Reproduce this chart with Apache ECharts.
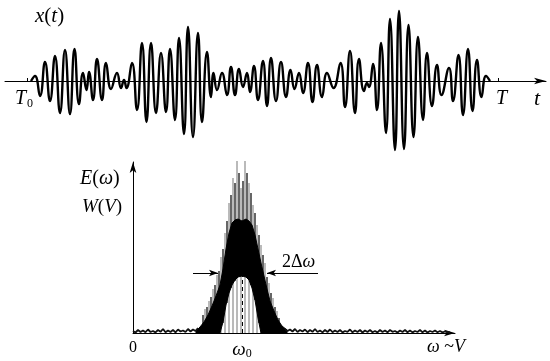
<!DOCTYPE html>
<html>
<head>
<meta charset="utf-8">
<script src="https://cdn.jsdelivr.net/npm/echarts@6/dist/echarts.min.js"></script>
<style>
  html, body { margin: 0; padding: 0; background: #fff; }
  #my_chart { width: 550px; height: 361px; }
</style>
</head>
<body>
<div id="my_chart"></div>
<script>
  // x(t): time of each extremum and its amplitude
  var waveT = [31, 35, 40, 45, 50, 55, 60, 65, 70, 74.5, 79, 83, 86.5, 89, 93, 97, 102, 106, 111, 117,
    121, 124, 126.5, 132, 137, 142, 146.5, 151, 156, 161, 166, 170, 175, 179, 184, 188, 193, 198, 202, 207,
    211, 213.5, 217, 222, 227, 231, 235, 239, 243, 247, 250, 254, 258, 263, 267, 271, 276, 281, 286, 290.5,
    294.5, 299, 303, 308, 312.5, 317, 322, 327, 333.5, 340.5, 345, 350, 355, 359, 364, 367, 369, 373, 377, 381,
    386, 390, 395, 399, 404, 408.5, 413.5, 418, 423, 427, 432, 437, 441.5, 449, 453, 458.5, 463, 468, 472.5, 477,
    481.5, 486, 490];
  var waveX = [0, 5, -15, 19, -20, 25, -32, 31, -33, 32, -23, 8, -9, 9, -19, 22, -19, 18, -8, 8,
    -7, 1, -7, 18, -29, 38, -41, 38, -32, 28, -31, 32, -39, 43, -53, 54, -56, 48, -41, 29,
    -16, 8, -9, 8, -14, 14, -14, 12, -6, 8, -11, 15, -19, 20, -25, 23, -20, 19, -16, 11,
    -8, 8, -12, 18, -21, 16, -16, 8, -7, 18, -26, 30, -32, 22, -10, -2, -6, 17, -29, 38,
    -52, 62, -69, 70, -68, 56, -56, 44, -39, 28, -25, 16, -14, 13, -20, 26, -34, 32, -30, 21,
    -16, 5, 0];
  var tTicks = [27, 498];

  // E(ω): dense body of the spectrum (lower / upper edge)
  var bodyF  = [63, 67, 71, 75, 79, 83, 87, 90, 93, 96, 99, 102, 105, 109, 113, 116, 119, 122, 125, 128, 131, 134, 137, 141, 145, 149, 154];
  var bodyLo = [0, 0, 0, 0, 0, 0, 0, 11, 28, 40, 48, 53, 56, 57, 56, 53, 45, 33, 15, 0, 0, 0, 0, 0, 0, 0, 0];
  var bodyHi = [2, 6, 11, 18, 27, 37, 48, 64, 84, 100, 110, 113, 114, 112, 114, 112, 108, 98, 84, 70, 57, 44, 32, 22, 13, 7, 3];

  // grey spikes [ω, from, to]
  var greySpikes = [[72, 0, 24], [76, 0, 32], [80, 0, 44], [84, 0, 58], [88, 0, 76], [92, 0, 100], [96, 0, 130],
    [100, 0, 155], [104, 0, 172], [108, 0, 145], [112, 0, 172], [116, 0, 150], [120, 0, 128], [124, 0, 108],
    [128, 0, 88], [132, 0, 70], [136, 0, 50], [140, 0, 35], [144, 0, 22]];
  // black spikes [ω, from, to]
  var blackSpikes = [[70, 0, 18], [74, 0, 26], [78, 0, 36], [82, 0, 48], [86, 0, 62], [90, 10, 84], [94, 30, 112],
    [98, 45, 138], [102, 52, 150], [106, 56, 160], [110, 57, 152], [114, 55, 160], [118, 48, 140], [122, 33, 120],
    [126, 10, 98], [130, 0, 78], [134, 0, 56], [138, 0, 40], [142, 0, 26], [146, 0, 15]];

  // noise floor either side of the peak
  var noiseLeftStart = 0, noiseRightStart = 152, noiseStep = 2.5;
  var noiseLeft = [2, 0.5, 3, 1, 2.5, 0.8, 3.5, 1, 2, 0.6, 3, 1.2, 4, 0.8, 2.5, 1, 3, 0.7, 3.5, 1.5, 2.5, 1, 4, 1.5, 3.5, 2, 5];
  var noiseRight = [4, 2, 3.5, 1.5, 4, 1, 3, 1.5, 3.5, 0.8, 3, 1.2, 4, 1, 2.5, 0.6, 3, 1, 3.5, 0.8, 2.5, 1, 3, 0.6, 2, 1.2,
    3.5, 0.7, 2.5, 1, 3, 0.5, 2.5, 1, 3, 0.8, 2, 0.6, 3, 1, 2.5, 0.7, 3, 1.2, 2, 0.5, 2.5, 1, 3, 0.8, 2.5, 0.6, 2, 1, 3,
    0.7, 2.5, 0.5, 2, 1, 2.5, 0.8, 2, 0.6, 1.5, 1, 0.5];

  var omega0 = 109;
  var halfWidthLevel = 60, arrowL = [60, 85], arrowR = [185, 134];
  var specTicks = [0, omega0];

  var SERIF = "'Liberation Serif','DejaVu Serif',serif";
  var my_chart = echarts.init(document.getElementById('my_chart'));

  function spikeRender(color, width) {
    return function (params, api) {
      var p0 = api.coord([api.value(0), api.value(1)]);
      var p1 = api.coord([api.value(0), api.value(2)]);
      return { type: 'line', shape: { x1: p0[0], y1: p0[1], x2: p1[0], y2: p1[1] },
        style: { stroke: color, lineWidth: width } };
    };
  }

  // the black body: one polygon, upper edge out and lower edge back
  function bodyRender(params, api) {
    if (params.dataIndex !== 0) return null;
    var pts = [];
    for (var i = 0; i < bodyF.length; i++) pts.push(api.coord([bodyF[i], bodyHi[i]]));
    for (var j = bodyF.length - 1; j >= 0; j--) pts.push(api.coord([bodyF[j], bodyLo[j]]));
    return { type: 'polygon', shape: { points: pts }, style: { fill: '#000', stroke: '#000', lineWidth: 1 } };
  }

  // rich label: {i|..} italic, {n|..} upright
  function txt(x, y, text, size) {
    return { type: 'text', x: x, y: y, z: 10,
      style: { text: text, fill: '#000', fontSize: size, fontFamily: SERIF, textVerticalAlign: 'middle',
        rich: { i: { fontSize: size, fontFamily: SERIF, fontStyle: 'italic' },
                n: { fontSize: size, fontFamily: SERIF },
                s: { fontSize: Math.round(size * 0.62), fontFamily: SERIF } } } };
  }

  my_chart.setOption({
    backgroundColor: '#fff',
    animation: false,
    grid: [
      { left: 5, right: 4, top: 5, bottom: 204 },
      { left: 133, right: 95, top: 162, bottom: 28 }
    ],
    xAxis: [
      { gridIndex: 0, type: 'value', min: 5, max: 546, splitLine: { show: false },
        axisLine: { onZero: true, symbol: ['none', 'arrow'], symbolSize: [5, 12], lineStyle: { color: '#000', width: 1 } },
        axisTick: { show: true, inside: true, length: 3, customValues: tTicks, lineStyle: { color: '#000' } },
        axisLabel: { show: false } },
      { gridIndex: 1, type: 'value', min: 0, max: 322, splitLine: { show: false },
        axisLine: { symbol: ['none', 'arrow'], symbolSize: [5, 11], lineStyle: { color: '#000', width: 1 } },
        axisTick: { show: false },
        axisLabel: { show: true, customValues: specTicks, margin: 7, color: '#000', fontFamily: SERIF, fontSize: 16,
          formatter: function (v) { return v === 0 ? '{n|0}' : '{w|ω}{s|0}'; },
          rich: { n: { fontSize: 16, fontFamily: SERIF },
            w: { fontSize: 19, fontStyle: 'italic', fontFamily: SERIF },
            s: { fontSize: 12, fontFamily: SERIF, padding: [8, 0, 0, 0] } } } }
    ],
    yAxis: [
      { gridIndex: 0, type: 'value', min: -76, max: 76, show: false },
      { gridIndex: 1, type: 'value', min: 0, max: 171, splitLine: { show: false },
        axisLine: { show: true, symbol: ['none', 'arrow'], symbolSize: [5, 11], lineStyle: { color: '#000', width: 1 } },
        axisTick: { show: false }, axisLabel: { show: false } }
    ],
    series: [
      { name: 'x(t)', type: 'line', xAxisIndex: 0, yAxisIndex: 0, smooth: 0.5, showSymbol: false,
        data: waveT.map(function (t, i) { return [t, waveX[i]]; }),
        lineStyle: { color: '#000', width: 2.4 } },
      { name: 'grey', type: 'custom', xAxisIndex: 1, yAxisIndex: 1, z: 1,
        renderItem: spikeRender('#8c8c8c', 1.2), data: greySpikes },
      { name: 'body', type: 'custom', xAxisIndex: 1, yAxisIndex: 1, z: 2,
        renderItem: bodyRender,
        data: bodyF.map(function (f, i) { return [f, bodyLo[i], bodyHi[i]]; }) },
      { name: 'black', type: 'custom', xAxisIndex: 1, yAxisIndex: 1, z: 3,
        renderItem: spikeRender('#000', 1.2), data: blackSpikes },
      { name: 'noiseL', type: 'line', xAxisIndex: 1, yAxisIndex: 1, showSymbol: false, z: 3,
        data: noiseLeft.map(function (h, i) { return [noiseLeftStart + i * noiseStep, h]; }),
        lineStyle: { color: '#111', width: 1.8 } },
      { name: 'noiseR', type: 'line', xAxisIndex: 1, yAxisIndex: 1, showSymbol: false, z: 3,
        data: noiseRight.map(function (h, i) { return [noiseRightStart + i * noiseStep, h]; }),
        lineStyle: { color: '#111', width: 1.8 } },
      { name: 'marks', type: 'line', xAxisIndex: 1, yAxisIndex: 1, data: [], z: 5,
        markLine: { silent: true, animation: false, label: { show: false },
          data: [
            [{ coord: [omega0, 0], symbol: 'none', lineStyle: { type: [4, 3], color: '#000', width: 1 } },
             { coord: [omega0, 70], symbol: 'none' }],
            [{ coord: [arrowL[0], halfWidthLevel], symbol: 'none', lineStyle: { type: 'solid', color: '#000', width: 1 } },
             { coord: [arrowL[1], halfWidthLevel], symbol: 'arrow', symbolSize: [5, 9] }],
            [{ coord: [arrowR[0], halfWidthLevel], symbol: 'none', lineStyle: { type: 'solid', color: '#000', width: 1 } },
             { coord: [arrowR[1], halfWidthLevel], symbol: 'arrow', symbolSize: [5, 9] }]
          ] } }
    ],
    graphic: [
      txt(35, 16, '{i|x}{n|(}{i|t}{n|)}', 21),
      txt(15, 99, '{i|T}', 20),
      txt(27, 104, '{s|0}', 19),
      txt(496, 99, '{i|T}', 20),
      txt(534, 99, '{i|t}', 22),
      txt(80, 179, '{i|E}{n|(}{i|ω}{n|)}', 20),
      txt(82, 207, '{i|W}{n|(}{i|V}{n|)}', 19),
      txt(282, 262, '{n|2Δ}{i|ω}', 18),
      txt(427, 347, '{i|ω}{n| ~}{i|V}', 18)
    ]
  });
</script>
</body>
</html>
